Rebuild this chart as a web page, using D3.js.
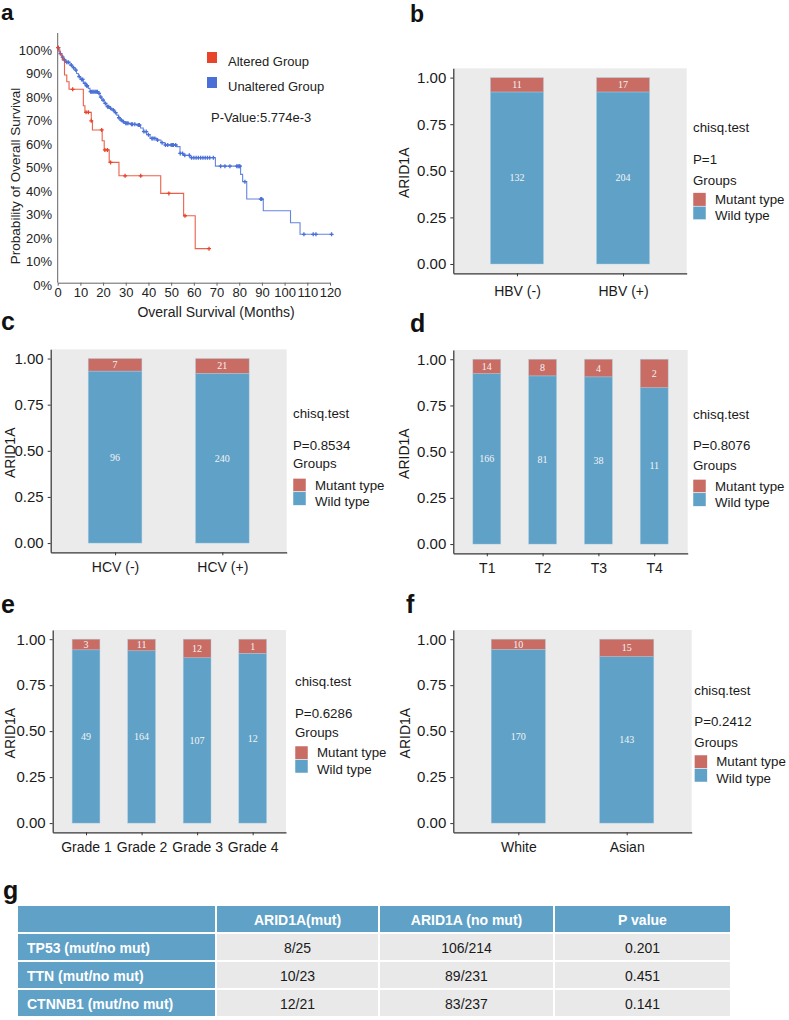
<!DOCTYPE html>
<html><head><meta charset="utf-8">
<script src="https://cdn.jsdelivr.net/npm/d3@7"></script>
<style>body{margin:0;background:#fff}svg{display:block}</style>
</head><body><svg id="fig" width="789" height="1020"></svg>
<script>
// ---------------- DATA ----------------
// Panel a: Kaplan-Meier (months, survival %)
const kmMonthTicks = [0,10,20,30,40,50,60,70,80,90,100,110,120];
const kmPctTicks = [0,10,20,30,40,50,60,70,80,90,100];
const alteredSteps = [[0,100],[0.5,98.3],[1.2,96.9],[2,94.8],[3,88.4],[4,85.5],[5,82.3],[11.3,75.3],[12,72.5],[14.8,68.9],[15.3,65.0],[19.6,60.4],[20.5,56.5],[22.7,51.2],[27,45.5],[45.4,38.0],[55.5,28.5],[60.6,14.5]];
const alteredEnd = 66.7;
const alteredCensor = [0.2,6.6,12.5,13.5,14.8,19.4,20.8,21.9,23.3,29.7,36.6,49,56.1,66.7];
const unalteredSteps = [[0,100],[0.5,99],[1,97.5],[1.8,96],[2.5,94.8],[3.5,93.8],[5.4,92.6],[6.5,91.5],[7.6,90.5],[8.3,89],[9.1,87.7],[10,86.5],[11.3,84.8],[12.4,83.8],[13.5,82.7],[14.2,81.3],[17.9,80.6],[18.6,79],[19.4,77.7],[20.5,76.3],[21.6,74.9],[23,74.2],[23.8,73.5],[25,72.4],[26,71.3],[26.8,70.2],[27.5,69.2],[28.6,68.5],[29.7,67.8],[32,67.4],[34.8,67.1],[36.5,65.8],[37.7,64.3],[39.2,63],[40.7,61.4],[43.6,60.7],[45.5,59.6],[47.3,58.6],[52.4,57.9],[53.9,55],[55.4,54.2],[58.3,53.2],[69.5,49.6],[80.6,46.1],[81.5,43],[83.3,35.6],[90.6,30.6],[102.6,25.5],[106.8,20.6]];
const unalteredEnd = 121;
const unalteredCensor = [0.3,1.2,2.2,3,4,4.7,6,7,8,9.5,10.5,11,12,12.8,13,14.5,15,15.5,16,16.5,17,17.5,18.2,19,20,21,22,22.5,23.3,24.5,25.5,27,28,29,30,30.5,31,32.5,33,34,35.5,36,38,39,40,41.5,42,42.8,44,46,47.5,48.5,50,50.5,51,52,54,55,56,58,59,60,61,62,63,64,65,66,67,68.6,71.8,73.7,75.9,78.9,79.5,80,80.3,82.5,89.5,89.9,108.5,112.6,113.8,120.7];
const kmLegend = ["Altered Group","Unaltered Group"];
const kmPText = "P-Value:5.774e-3";

// Panels b-f: stacked proportions
const hbvCats = ["HBV (-)","HBV (+)"], hbvMut = [11,17], hbvWild = [132,204], hbvP = "P=1";
const hcvCats = ["HCV (-)","HCV (+)"], hcvMut = [7,21], hcvWild = [96,240], hcvP = "P=0.8534";
const tCats = ["T1","T2","T3","T4"], tMut = [14,8,4,2], tWild = [166,81,38,11], tP = "P=0.8076";
const gradeCats = ["Grade 1","Grade 2","Grade 3","Grade 4"], gradeMut = [3,11,12,1], gradeWild = [49,164,107,12], gradeP = "P=0.6286";
const raceCats = ["White","Asian"], raceMut = [10,15], raceWild = [170,143], raceP = "P=0.2412";
const yTicks = [0,0.25,0.5,0.75,1];
const groupLabels = ["Mutant type","Wild type"];

// Panel g: table
const tableHeader = ["","ARID1A(mut)","ARID1A (no mut)","P value"];
const tableRows = ["TP53 (mut/no mut)","TTN (mut/no mut)","CTNNB1 (mut/no mut)"];
const tableMut = ["8/25","10/23","12/21"];
const tableNoMut = ["106/214","89/231","83/237"];
const tablePval = ["0.201","0.451","0.141"];

// ---------------- DRAW ----------------
const svg = d3.select("#fig");
const SANS = "'Liberation Sans', Arial, sans-serif";
const SERIF = "'Liberation Serif', 'Times New Roman', serif";
const MUT = "#c86c64", WILD = "#5fa1c7", BG = "#ebebeb";

function panelLabel(t, x, y, fs){
  svg.append("text").attr("x",x).attr("y",y).text(t)
    .attr("font-family",SANS).attr("font-weight","bold").attr("font-size",fs||25).attr("fill","#111");
}

// ---- Panel a ----
(function(){
  const x = d3.scaleLinear().domain([0,120]).range([57.7,330]);
  const y = d3.scaleLinear().domain([0,100]).range([282.7,47.7]);
  const g = svg.append("g");
  g.append("line").attr("x1",x(0)).attr("x2",x(0)).attr("y1",33).attr("y2",y(0)).attr("stroke","#666").attr("stroke-width",1);
  const xa = g.append("g").attr("transform",`translate(0,${y(0)})`)
    .call(d3.axisBottom(x).tickValues(kmMonthTicks).tickSize(3).tickSizeOuter(0).tickPadding(2));
  xa.select(".domain").attr("stroke","#666");
  xa.selectAll(".tick line").attr("stroke","#666");
  xa.selectAll("text").attr("font-family",SANS).attr("font-size",13).attr("fill","#222");
  g.selectAll(".yt").data(kmPctTicks).join("text")
    .attr("x",52).attr("y",d=>y(d)+2.5).attr("text-anchor","end").attr("dominant-baseline","central")
    .attr("font-family",SANS).attr("font-size",13).attr("fill","#222").text(d=>d+"%");
  g.append("text").attr("transform",`translate(15,${176}) rotate(-90)`).attr("text-anchor","middle")
    .attr("dominant-baseline","central").attr("font-family",SANS).attr("font-size",13.5).attr("fill","#222")
    .text("Probability of Overall Survival");
  g.append("text").attr("x",216).attr("y",312).attr("text-anchor","middle").attr("dominant-baseline","central")
    .attr("font-family",SANS).attr("font-size",14).attr("fill","#222").text("Overall Survival (Months)");

  function survAt(steps, t){ let v = steps[0][1]; for(const s of steps){ if(s[0] <= t) v = s[1]; } return v; }
  function stepPath(steps, end){
    const pts = [];
    steps.forEach((s,i)=>{ if(i>0) pts.push([s[0], steps[i-1][1]]); pts.push(s); });
    pts.push([end, steps[steps.length-1][1]]);
    return d3.line().x(d=>x(d[0])).y(d=>y(d[1]))(pts);
  }
  function curve(steps, end, censor, col){
    g.append("path").attr("d",stepPath(steps,end)).attr("fill","none").attr("stroke",col).attr("stroke-width",1.1).attr("opacity",0.85);
    const m = g.append("g");
    censor.forEach(t=>{
      const cx = x(t), cy = y(survAt(steps,t));
      m.append("path").attr("d",`M${cx-2},${cy}H${cx+2}M${cx},${cy-2}V${cy+2}`).attr("stroke",col).attr("stroke-width",1.3);
    });
  }
  curve(unalteredSteps, unalteredEnd, unalteredCensor, "#4a70d8");
  curve(alteredSteps, alteredEnd, alteredCensor, "#e8442a");
  // legend
  const lc = ["#e8442a","#4a70d8"];
  kmLegend.forEach((t,i)=>{
    g.append("rect").attr("x",207).attr("y",52+i*25).attr("width",10).attr("height",11).attr("fill",lc[i]);
    g.append("text").attr("x",228).attr("y",57.5+i*25+4).attr("dominant-baseline","central")
      .attr("font-family",SANS).attr("font-size",13).attr("fill","#222").text(t);
  });
  g.append("text").attr("x",211).attr("y",117).attr("dominant-baseline","central")
    .attr("font-family",SANS).attr("font-size",13).attr("fill","#222").text(kmPText);
})();
panelLabel("a",1,20,22.5);

// ---- Bar panels ----
function barPanel(L, cats, mut, wild, pText){
  const rows = cats.map((c,i)=>({cat:c, mutant:mut[i], wild:wild[i]}));
  const series = d3.stack().keys(["wild","mutant"]).offset(d3.stackOffsetExpand)(rows);
  const x = d3.scalePoint().domain(cats).range([L.x0,L.x1]).padding(0.6);
  const y = d3.scaleLinear().domain([-0.05,1.05]).range([L.y1,L.y0]);
  const g = svg.append("g");
  g.append("rect").attr("x",L.x0).attr("y",L.y0).attr("width",L.x1-L.x0).attr("height",L.y1-L.y0).attr("fill",BG);
  const bw = x.step()*0.5;
  const col = {wild:WILD, mutant:MUT};
  series.forEach(s=>{
    g.selectAll(null).data(s).join("rect")
      .attr("x",d=>x(d.data.cat)-bw/2).attr("y",d=>y(d[1])).attr("width",bw).attr("height",d=>y(d[0])-y(d[1]))
      .attr("fill",col[s.key]).attr("stroke","#a9cde2").attr("stroke-width",0.6).attr("stroke-opacity",0.7);
  });
  series.forEach(s=>{
    g.selectAll(null).data(s).join("text")
      .attr("x",d=>x(d.data.cat)).attr("y",d=>(y(d[0])+y(d[1]))/2).attr("text-anchor","middle").attr("dominant-baseline","central")
      .attr("font-family",SERIF).attr("font-size",10).attr("fill","#f4f4f4").text(d=>d.data[s.key]);
  });
  const ya = g.append("g").attr("transform",`translate(${L.x0},0)`)
    .call(d3.axisLeft(y).tickValues(yTicks).tickFormat(d3.format(".2f")).tickSize(3).tickSizeOuter(0).tickPadding(4));
  const xa = g.append("g").attr("transform",`translate(0,${L.y1})`)
    .call(d3.axisBottom(x).tickSize(3).tickSizeOuter(0).tickPadding(L.xpad || 7));
  [ya,xa].forEach(a=>{
    a.select(".domain").attr("stroke","#333").attr("stroke-width",1.2);
    a.selectAll(".tick line").attr("stroke","#333");
    a.selectAll("text").attr("font-family",SANS).attr("font-size",15).attr("fill","#1a1a1a");
  });
  xa.selectAll("text").attr("font-size",14);
  g.append("text").attr("transform",`translate(${L.yt},${(L.y0+L.y1)/2+2}) rotate(-90)`).attr("text-anchor","middle")
    .attr("dominant-baseline","central").attr("font-family",SANS).attr("font-size",14).attr("fill","#1a1a1a").text("ARID1A");
  // legend
  const lg = L.lg;
  const ts = (t,xx,yy)=>g.append("text").attr("x",xx).attr("y",yy).attr("dominant-baseline","central")
      .attr("font-family",SANS).attr("font-size",13.3).attr("fill","#1a1a1a").text(t);
  ts("chisq.test", lg.x, lg.chi);
  ts(pText, lg.x, lg.p);
  ts("Groups", lg.x, lg.grp);
  [MUT,WILD].forEach((c,i)=>{
    g.append("rect").attr("x",lg.x).attr("y",lg.key+i*13.5).attr("width",13).attr("height",13.5).attr("fill",c)
      .attr("stroke","#fff").attr("stroke-width",0.5);
    ts(groupLabels[i], lg.x+22, lg.key+6.75+i*16.5);
  });
}

barPanel({x0:453.3,x1:686.7,y0:68.3,y1:273.3,yt:404,xpad:10,lg:{x:693,chi:127.7,p:159,grp:180,key:192.7}}, hbvCats,hbvMut,hbvWild,hbvP);
barPanel({x0:50.7,x1:286.7,y0:349.3,y1:552.3,yt:10,lg:{x:293,chi:413.3,p:445.7,grp:463.3,key:478.3}}, hcvCats,hcvMut,hcvWild,hcvP);
barPanel({x0:453.3,x1:687.7,y0:350,y1:553.3,yt:404,lg:{x:693,chi:414.3,p:445.7,grp:465,key:479.3}}, tCats,tMut,tWild,tP);
barPanel({x0:52.7,x1:286,y0:630,y1:832.3,yt:10,lg:{x:295,chi:681,p:713.3,grp:732.7,key:746}}, gradeCats,gradeMut,gradeWild,gradeP);
barPanel({x0:453.3,x1:691.7,y0:630,y1:832.3,yt:405,lg:{x:694.3,chi:690,p:721.7,grp:742.7,key:755}}, raceCats,raceMut,raceWild,raceP);

panelLabel("b",410,21.5,23);
panelLabel("c",1,330);
panelLabel("d",410,331.5);
panelLabel("e",1,613);
panelLabel("f",406,613);
panelLabel("g",3,899);

// ---- Panel g table ----
(function(){
  const colEdges = [17,216,379,554,731];
  const rowEdges = [905,933,961,989,1017];
  const g = svg.append("g");
  const HEAD = "#5fa1c7", CELL = "#e9e9e9";
  const cells = [];
  tableHeader.forEach((t,j)=>cells.push({r:0,c:j,t:t,head:true}));
  tableRows.forEach((t,i)=>{
    cells.push({r:i+1,c:0,t:t,head:true,left:true});
    cells.push({r:i+1,c:1,t:tableMut[i]});
    cells.push({r:i+1,c:2,t:tableNoMut[i]});
    cells.push({r:i+1,c:3,t:tablePval[i]});
  });
  g.selectAll("rect").data(cells).join("rect")
    .attr("x",d=>colEdges[d.c]+1).attr("y",d=>rowEdges[d.r]+1)
    .attr("width",d=>colEdges[d.c+1]-colEdges[d.c]-2).attr("height",d=>rowEdges[d.r+1]-rowEdges[d.r]-2)
    .attr("fill",d=>d.head?HEAD:CELL);
  g.selectAll("text").data(cells).join("text")
    .attr("x",d=>d.left?colEdges[0]+10:(colEdges[d.c]+colEdges[d.c+1])/2)
    .attr("y",d=>(rowEdges[d.r]+rowEdges[d.r+1])/2+0.5)
    .attr("text-anchor",d=>d.left?"start":"middle").attr("dominant-baseline","central")
    .attr("font-family",SANS).attr("font-size",14).attr("font-weight",d=>d.head?"bold":"normal")
    .attr("fill",d=>d.head?"#fff":"#1a1a1a").text(d=>d.t);
})();
</script></body></html>
